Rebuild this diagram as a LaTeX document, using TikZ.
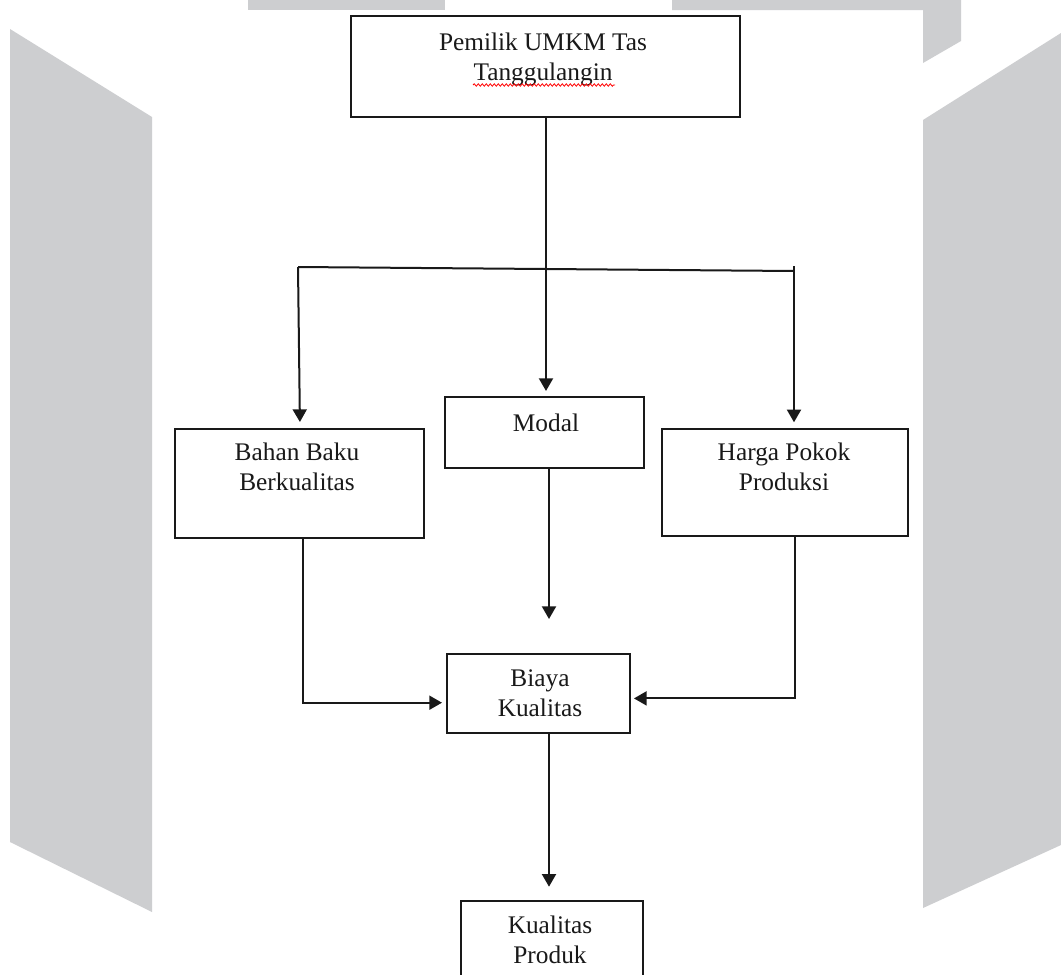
\documentclass[tikz,border=0pt]{standalone}
\usepackage{fontspec}
\setmainfont{Liberation Serif}
\usetikzlibrary{arrows.meta,calc,decorations.pathmorphing}
\definecolor{wm}{RGB}{205,206,208}
\definecolor{ink}{RGB}{25,25,25}
\tikzset{
  box/.style={draw=ink, line width=1.5pt, fill=white, inner sep=0pt, outer sep=0pt},
  txt/.style={inner sep=0pt, align=center, anchor=base, text=ink,
    font=\fontsize{19pt}{22.5pt}\selectfont},
  conn/.style={draw=ink, line width=1.5pt},
  arr/.style={conn, -{Triangle[width=10.5pt,length=9.5pt]}},
}
\begin{document}
\begin{tikzpicture}[x=0.75pt,y=-0.75pt]
\useasboundingbox (0,0) rectangle (1061,975);
\clip (0,0) rectangle (1061,975);
\fill[white] (0,0) rectangle (1061,975);
% watermark shapes
\fill[wm] (10,29) -- (152,117) -- (152,912) -- (10,842) -- cycle;
\fill[wm] (923,120) -- (1061,33) -- (1061,845) -- (923,908) -- cycle;
\fill[wm] (248,0) -- (445,0) -- (445,10) -- (248,10) -- cycle;
\fill[wm] (672,0) -- (961,0) -- (961,41) -- (923,63) -- (923,10) -- (672,10) -- cycle;

% boxes
\node[box, minimum width=291.75pt, minimum height=76.1pt] (top) at (545,66.25) {};
\node[box, minimum width=186.75pt, minimum height=81.75pt] (bahan) at (299,483.5) {};
\node[box, minimum width=149.25pt, minimum height=53pt] (modal) at (544,432.3) {};
\node[box, minimum width=185.1pt, minimum height=80pt] (harga) at (784.9,482.6) {};
\node[box, minimum width=137.5pt, minimum height=59pt] (biaya) at (538.3,693.3) {};
\node[box, minimum width=137pt, minimum height=90pt] (produk) at (552,960.7) {};

% texts (anchor base = baseline of the last line)
\node[txt] (ttop) at (543,80) {Pemilik UMKM Tas\\Tanggulangin};
\node[txt] (tbahan) at (297,490) {Bahan Baku\\Berkualitas};
\node[txt] (tmodal) at (546,431.7) {Modal};
\node[txt] (tharga) at (784,490.7) {Harga Pokok\\Produksi};
\node[txt] (tbiaya) at (540,716) {Biaya\\Kualitas};
\node[txt] (tprod) at (550,963) {Kualitas\\Produk};
\draw[red, line width=0.6pt, decorate, decoration={snake, amplitude=0.9pt, segment length=3pt}] (473,85) -- (615,85);

% junction coordinates
\coordinate (jl) at (298,267);
\coordinate (jc) at (546,269);
\coordinate (jr) at (794,271);
\coordinate (mEnd) at (549,619);
\coordinate (bl) at (303,702.7);
\coordinate (hr) at (795,698.4);
\coordinate (pc) at (549,0);

% connectors
\draw[conn] (jc |- top.south) -- (jc);
\draw[conn] (jl) -- (jc) -- (jr);
\draw[conn] (794,266) -- (jr);
\draw[arr, shorten >=5.25pt] (jl) -- (300,429);
\draw[arr, shorten >=4.5pt] (jc) -- (jc |- modal.north);
\draw[arr, shorten >=5.25pt] (jr) -- (jr |- harga.north);
\draw[arr] (mEnd |- modal.south) -- (mEnd);
\draw[arr, shorten >=3.5pt] (bl |- bahan.south) -- (bl) -- (bl -| biaya.west);
\draw[arr, shorten >=3pt] (hr |- harga.south) -- (hr) -- (hr -| biaya.east);
\draw[arr, shorten >=10.5pt] (pc |- biaya.south) -- (pc |- produk.north);
\end{tikzpicture}
\end{document}
